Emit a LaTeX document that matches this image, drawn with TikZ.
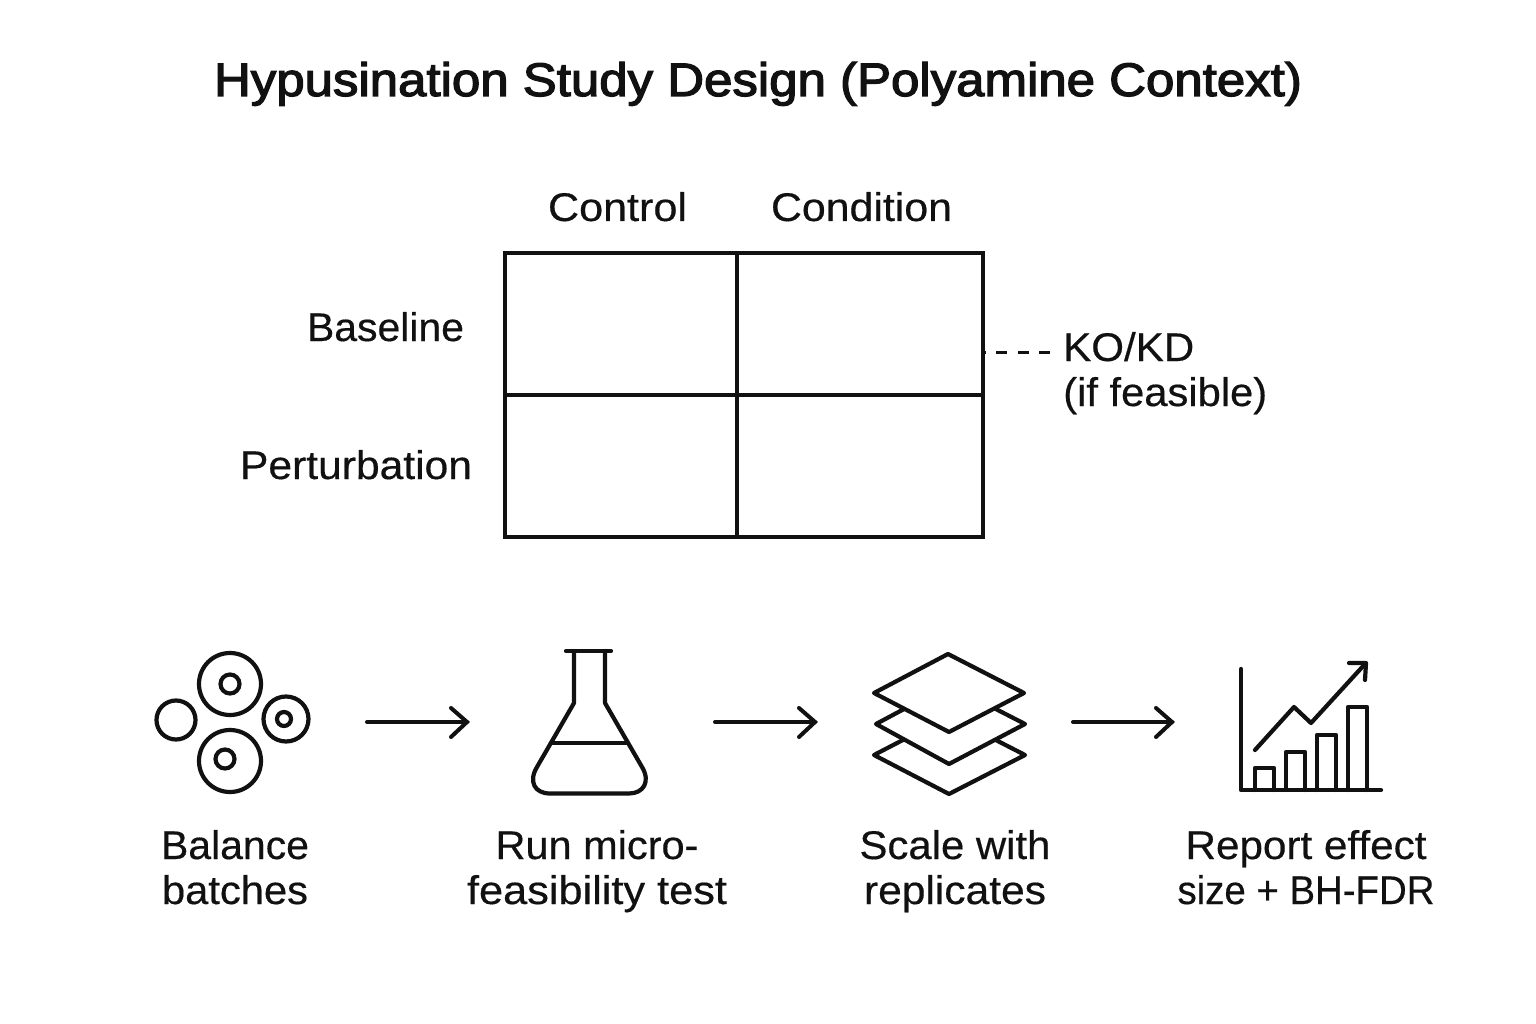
\documentclass[tikz,border=0pt]{standalone}
\usepackage{graphicx}
\usepackage{fontspec}
\setmainfont{Liberation Sans}
\newfontfamily\titlef{Liberation Sans}[RawFeature={embolden=2.6}]
\newfontfamily\labelf{Liberation Sans}[RawFeature={embolden=0.4}]
\newcommand{\fw}[2]{\resizebox{#1pt}{\height}{#2}}
\definecolor{ink}{HTML}{111111}
\tikzset{
  gridline/.style={draw=ink,line width=3.4pt},
  icon/.style={draw=ink,line width=4.2pt,line cap=round,line join=round},
  flowarrow/.style={draw=ink,line width=4pt,line cap=round,line join=round},
  head/.style={draw=ink,line width=4pt,line cap=round,line join=miter},
  lbl/.style={text=ink,inner sep=0pt,anchor=base,font=\labelf\fontsize{40}{45}\selectfont},
  steplbl/.style={lbl,align=center},
}
\begin{document}
\begin{tikzpicture}[x=1pt,y=-1pt]
\useasboundingbox[fill=white] (0,0) rectangle (1536,1024);
\node[text=ink,inner sep=0pt,anchor=base,font=\titlef\fontsize{47}{52}\selectfont] (title) at (758,96) {\fw{1088}{Hypusination Study Design (Polyamine Context)}};
\node[lbl] (control) at (617.5,221) {\fw{139}{Control}};
\node[lbl] (condition) at (861.5,221) {\fw{181}{Condition}};
\node[lbl] (baseline) at (385.5,341) {\fw{157}{Baseline}};
\node[lbl] (perturb) at (356,479) {\fw{232}{Perturbation}};
\draw[gridline] (505,253) rectangle (983,537);
\draw[gridline] (737,253) -- (737,537);
\draw[gridline] (505,395) -- (983,395);
\coordinate (gridedge) at (984,352);
\node[lbl,align=left,anchor=base west] (ko) at (1063,406) {\fw{131}{KO/KD}\\\fw{204}{(if feasible)}};
\coordinate (koend) at (1050,352);
\draw[draw=ink,line width=3pt,dash pattern=on 11pt off 10.5pt] (koend) -- (gridedge);
% cells
\draw[icon] (230,684) circle (31);
\draw[icon] (230,684) circle (9.5);
\draw[icon] (230,761) circle (31);
\draw[icon] (225,759) circle (9.5);
\draw[icon] (176,720) circle (19.5);
\draw[icon] (286,719) circle (22.5);
\draw[icon] (284,719) circle (7);
% flask
\draw[icon] (566,651) -- (611,651);
\draw[icon] (574,651) -- (574,703) -- (537,767) .. controls (528,782) and (535,793.5) .. (550,793.5) -- (629,793.5) .. controls (643,793.5) and (651,782) .. (642,767) -- (605,703) -- (605,651);
\draw[icon] (552,743) -- (626,743);
% layers
\draw[icon,fill=white] (949,716) -- (1025,755) -- (949,794) -- (874,755) -- cycle;
\draw[icon,fill=white] (949,685) -- (1025,724) -- (949,764) -- (876,724) -- cycle;
\draw[icon,fill=white] (948,654) -- (1024,693) -- (949,732) -- (874,693) -- cycle;
% chart
\draw[icon] (1241,669) -- (1241,790) -- (1381,790);
\draw[icon] (1255,790) |- (1274,768) -- (1274,790);
\draw[icon] (1286,790) |- (1305,752) -- (1305,790);
\draw[icon] (1317,790) |- (1336,735) -- (1336,790);
\draw[icon] (1348,790) |- (1367,707) -- (1367,790);
\draw[icon] (1255,750) -- (1294,707) -- (1311,723) -- (1365,664);
\draw[icon] (1349,663) -- (1366,663) -- (1365,680);
% arrows
\foreach \i/\a/\b in {1/367/467,2/715/815,3/1073/1172}{
  \coordinate (a\i s) at (\a,722);
  \coordinate (a\i e) at (\b,722);
  \coordinate (a\i u) at (\b-16,708);
  \coordinate (a\i d) at (\b-16,737);
  \draw[flowarrow] (a\i s) -- (a\i e);
  \draw[head] (a\i u) -- (a\i e) -- (a\i d);
}
% labels
\node[steplbl] (s1) at (235,904) {\fw{148}{Balance}\\\fw{146}{batches}};
\node[steplbl] (s2) at (597,904) {\fw{203}{Run micro-}\\\fw{260}{feasibility test}};
\node[steplbl] (s3) at (955,904) {\fw{191}{Scale with}\\\fw{182}{replicates}};
\node[steplbl] (s4) at (1306,904) {\fw{241}{Report effect}\\\fw{257}{size + BH-FDR}};
\end{tikzpicture}
\end{document}
